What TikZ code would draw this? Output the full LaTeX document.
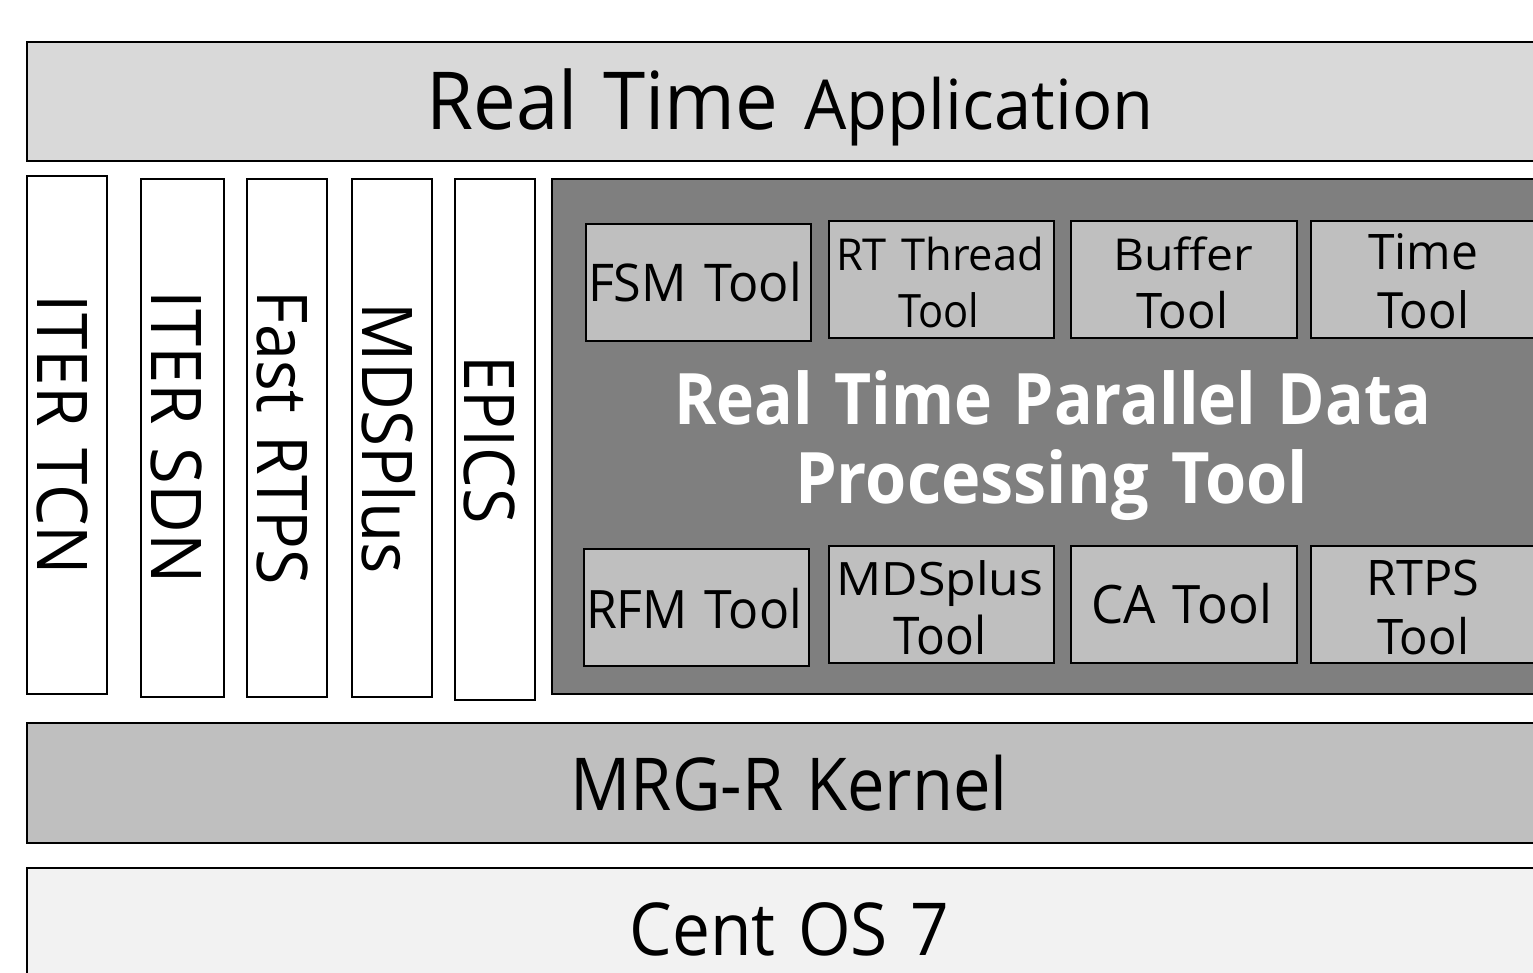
\documentclass[tikz,border=0pt]{standalone}
\usepackage{fontspec}
\setmainfont{Open Sans}[WordSpace=1.3]
\definecolor{appgray}{HTML}{D9D9D9}
\definecolor{darkgray}{HTML}{7F7F7F}
\definecolor{toolgray}{HTML}{BFBFBF}
\definecolor{osgray}{HTML}{F2F2F2}
\newlength\fitlen
% #1 target width (pt), #2 font size (pt), #3 text
\newcommand\fitbox[3]{{\fontsize{#2}{#2}\selectfont\settowidth{\fitlen}{#3}%
  \pgfmathsetmacro\fitratio{#1/\fitlen}\scalebox{\fitratio}[1]{#3}}}
\begin{document}
\begin{tikzpicture}[x=1pt,y=-1pt,
  layer/.style={draw=black, line width=2.4pt, inner sep=0pt, anchor=center},
  vbox/.style={layer, fill=white, minimum width=80pt},
  toolbox/.style={layer, fill=toolgray, minimum width=225pt, minimum height=117pt},
  lbl/.style={anchor=base, inner sep=0pt, text=black},
  vlbl/.style={lbl, rotate=-90},
]
\useasboundingbox (0,0) rectangle (1533,973);
\clip (0,0) rectangle (1533,973);
\fill[white] (0,0) rectangle (1533,973);

% top application bar
\node[layer, fill=appgray, minimum width=1525pt, minimum height=119pt] (app) at (789.5,101.5) {};
\node[lbl] (applbl) at (790,130) {\fitbox{352}{80}{Real Time}\hspace{26pt}\fitbox{349}{69}{Application}};

% vertical library boxes
\node[vbox, minimum height=518pt] (tcn) at (67,435) {};
\node[vbox, minimum width=83pt, minimum height=518pt] (sdn) at (182.5,438) {};
\node[vbox, minimum height=518pt] (rtps) at (287,438) {};
\node[vbox, minimum height=518pt] (mds) at (392,438) {};
\node[vbox, minimum height=521pt] (epics) at (495,439.5) {};
\node[vlbl] (tcnlbl) at (37,435) {\fitbox{280}{70}{ITER TCN}};
\node[vlbl] (sdnlbl) at (151,437.5) {\fitbox{293}{70}{ITER SDN}};
\node[vlbl] (rtpslbl) at (257,438) {\fitbox{294}{70}{Fast RTPS}};
\node[vlbl] (mdslbl) at (362,438.5) {\fitbox{271}{70}{MDSPlus}};
\node[vlbl] (epicslbl) at (464,439.5) {\fitbox{169}{70}{EPICS}};

% dark processing tool box
\node[layer, fill=darkgray, minimum width=1000pt, minimum height=515pt] (rtpdp) at (1052,436.5) {};
\node[lbl, text=white] (title1) at (1052.5,424) {\fitbox{757}{71}{\bfseries Real Time Parallel Data}};
\node[lbl, text=white] (title2) at (1051.5,503) {\fitbox{513}{71}{\bfseries Processing Tool}};

% tools, upper row
\node[toolbox] (fsm) at (698.5,282.5) {};
\node[toolbox] (thread) at (941.5,279.5) {};
\node[toolbox, minimum width=226pt] (buffer) at (1184,279.5) {};
\node[toolbox] (time) at (1423.5,279.5) {};
\node[lbl] (fsmlbl) at (695,302) {\fitbox{214}{52}{FSM Tool}};
\node[lbl] (threadlbl) at (940,271) {\fitbox{208}{44}{RT Thread}};
\node[lbl] (threadlbl2) at (938.5,327) {\fitbox{81}{46}{Tool}};
\node[lbl] (bufferlbl) at (1183,271) {\fitbox{140}{44}{Buffer}};
\node[lbl] (bufferlbl2) at (1182,329) {\fitbox{92}{49}{Tool}};
\node[lbl] (timelbl) at (1423,270) {\fitbox{110}{49}{Time}};
\node[lbl] (timelbl2) at (1423,329) {\fitbox{92}{50}{Tool}};

% tools, lower row
\node[toolbox] (rfm) at (696.5,607.5) {};
\node[toolbox] (mdstool) at (941.5,604.5) {};
\node[toolbox, minimum width=226pt] (ca) at (1184,604.5) {};
\node[toolbox] (rtpstool) at (1423.5,604.5) {};
\node[lbl] (rfmlbl) at (694,628) {\fitbox{216}{53}{RFM Tool}};
\node[lbl] (mdslbl1) at (940,595) {\fitbox{207}{46}{MDSplus}};
\node[lbl] (mdslbl2) at (940,654) {\fitbox{93}{52}{Tool}};
\node[lbl] (calbl) at (1181.5,623) {\fitbox{181}{53}{CA Tool}};
\node[lbl] (rtpslbl1) at (1423,595) {\fitbox{113}{49}{RTPS}};
\node[lbl] (rtpslbl2) at (1423,654) {\fitbox{92}{49}{Tool}};

% kernel
\node[layer, fill=toolgray, minimum width=1525pt, minimum height=120pt] (kernel) at (789.5,783) {};
\node[lbl] (kernellbl) at (789,810) {\fitbox{437}{73}{MRG-R Kernel}};

% OS
\node[layer, fill=osgray, minimum width=1525pt, minimum height=122pt] (os) at (789.5,929) {};
\node[lbl] (oslbl) at (789.5,955) {\fitbox{320}{73}{Cent OS 7}};
\end{tikzpicture}
\end{document}
